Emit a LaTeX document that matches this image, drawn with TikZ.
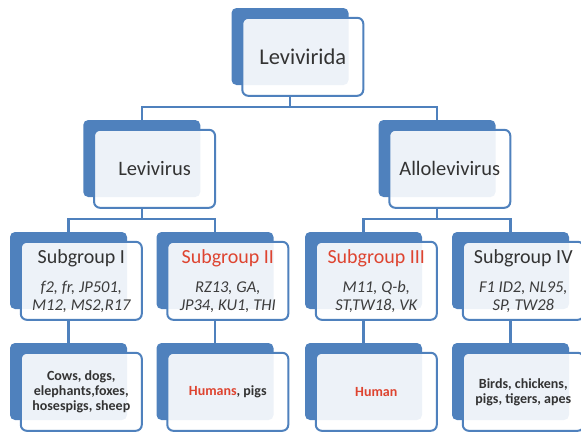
\documentclass[tikz,border=0pt]{standalone}
\usepackage{fontspec}
\setmainfont{Carlito}
\usetikzlibrary{positioning}
\definecolor{cardblue}{RGB}{79,129,189}
\definecolor{labelgray}{RGB}{51,51,51}
\definecolor{listgray}{RGB}{60,60,60}
\definecolor{hostred}{RGB}{222,68,48}

\begin{document}
\begin{tikzpicture}[
    x=1pt,y=-1pt,
    back/.style={rectangle,rounded corners=5pt,fill=cardblue,minimum width=117pt,minimum height=77pt,inner sep=0pt},
    card/.style={rectangle,rounded corners=6pt,draw=cardblue,line width=2pt,fill=white,fill opacity=0.9,text opacity=1,text=labelgray,
        minimum width=121pt,minimum height=78pt,align=center,inner sep=0pt,outer sep=0pt},
    groupcard/.style={card,font=\fontsize{16.5}{18}\selectfont},
    hostcard/.style={card,font=\fontsize{14}{15}\selectfont\bfseries},
    link/.style={draw=cardblue,line width=2.5pt}
]
\useasboundingbox (0,0) rectangle (581,432);
% back plates
\node[back] (bkroot) at (290,46.5) {};
\node[back] (bklevi) at (141.75,158.5) {};
\node[back] (bkallo) at (437,158.5) {};
\node[back] (bksg1) at (68.5,270.5) {};
\node[back] (bksg2) at (215,270.5) {};
\node[back] (bksg3) at (363.5,270.5) {};
\node[back] (bksg4) at (510.5,270.5) {};
\node[back] (bkhost1) at (68.5,381.5) {};
\node[back] (bkhost2) at (215,381.5) {};
\node[back] (bkhost3) at (363.5,381.5) {};
\node[back] (bkhost4) at (510.5,381.5) {};
% cards
\node[card,below right=10pt and 11pt of bkroot.north west,font=\fontsize{22.5}{26}\selectfont] (root) {Levivirida};
\node[card,below right=10pt and 11pt of bklevi.north west,font=\fontsize{20.5}{24}\selectfont] (levi) {Levivirus};
\node[card,below right=10pt and 11pt of bkallo.north west,font=\fontsize{20.5}{24}\selectfont] (allo) {Allolevivirus};
\node[groupcard,below right=10pt and 11pt of bksg1.north west] (sg1) {\fontsize{20}{18}\selectfont Subgroup I\\[11pt]
    \color{listgray}\itshape f2, fr, JP501,\\\color{listgray}\itshape M12, MS2,R17};
\node[groupcard,below right=10pt and 11pt of bksg2.north west] (sg2) {\fontsize{20}{18}\selectfont\textcolor{hostred}{Subgroup II}\\[11pt]
    \color{listgray}\itshape RZ13, GA,\\\color{listgray}\itshape JP34, KU1, THI};
\node[groupcard,below right=10pt and 11pt of bksg3.north west] (sg3) {\fontsize{20}{18}\selectfont\textcolor{hostred}{Subgroup III}\\[11pt]
    \color{listgray}\itshape M11, Q-b,\\\color{listgray}\itshape ST,TW18, VK};
\node[groupcard,below right=10pt and 11pt of bksg4.north west] (sg4) {\fontsize{20}{18}\selectfont Subgroup IV\\[11pt]
    \color{listgray}\itshape F1 ID2, NL95,\\\color{listgray}\itshape SP, TW28};
\node[hostcard,below right=10pt and 11pt of bkhost1.north west] (host1) {Cows, dogs,\\elephants,foxes,\\hosespigs, sheep};
\node[hostcard,below right=10pt and 11pt of bkhost2.north west] (host2) {\textcolor{hostred}{Humans}, pigs};
\node[hostcard,below right=10pt and 11pt of bkhost3.north west] (host3) {\textcolor{hostred}{Human}};
\node[hostcard,below right=10pt and 11pt of bkhost4.north west] (host4) {Birds, chickens,\\pigs, tigers, apes};
% connectors
\draw[link] (bkroot.center |- root.south) -- ++(0,11) -| (bklevi.north);
\draw[link] (bkroot.center |- root.south) -- ++(0,11) -| (bkallo.north);
\draw[link] (bklevi.center |- levi.south) -- ++(0,11) -| (bksg1.north);
\draw[link] (bklevi.center |- levi.south) -- ++(0,11) -| (bksg2.north);
\draw[link] (bkallo.center |- allo.south) -- ++(0,11) -| (bksg3.north);
\draw[link] (bkallo.center |- allo.south) -- ++(0,11) -| (bksg4.north);
\draw[link] (bksg1.center |- sg1.south) -- (bkhost1.north);
\draw[link] (bksg2.center |- sg2.south) -- (bkhost2.north);
\draw[link] (bksg3.center |- sg3.south) -- (bkhost3.north);
\draw[link] (bksg4.center |- sg4.south) -- (bkhost4.north);
\end{tikzpicture}
\end{document}
